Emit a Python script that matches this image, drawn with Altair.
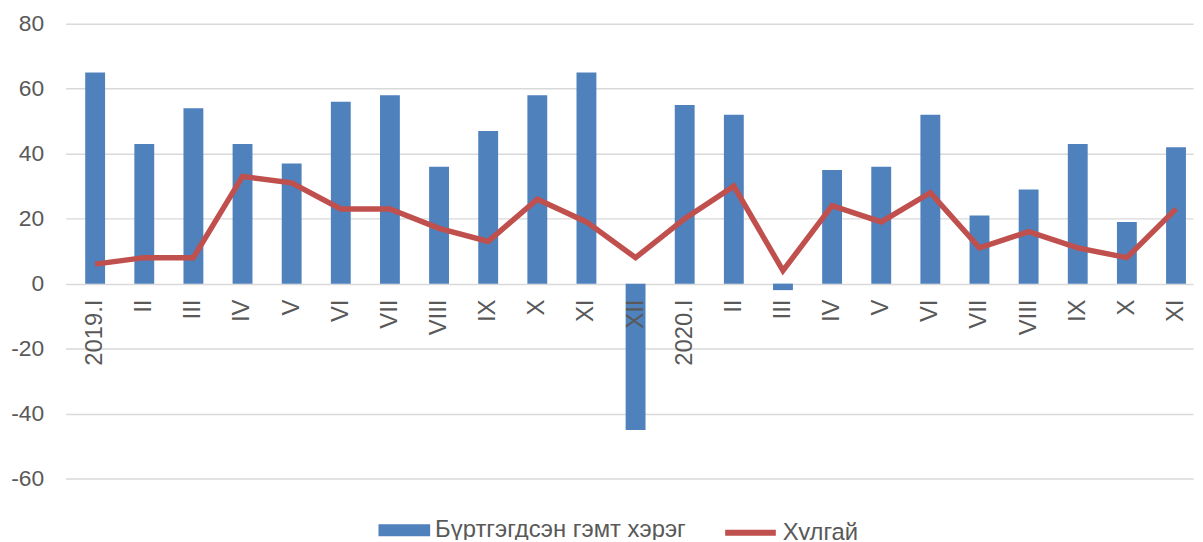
import altair as alt
import pandas as pd

labels = ["2019.I", "II", "III", "IV", "V", "VI", "VII", "VIII", "IX", "X", "XI", "XII",
          "2020.I", "II", "III", "IV", "V", "VI", "VII", "VIII", "IX", "X", "XI"]
crimes = [65, 43, 54, 43, 37, 56, 58, 36, 47, 58, 65, -45,
          55, 52, -2, 35, 36, 52, 21, 29, 43, 19, 42]
theft = [6, 8, 8, 33, 31, 23, 23, 17, 13, 26, 19, 8,
         20, 30, 4, 24, 19, 28, 11, 16, 11, 8, 23]

bar_name = "Бүртгэгдсэн гэмт хэрэг"
line_name = "Хулгай"

df = pd.DataFrame({
    "idx": list(range(len(labels))),
    "label": labels,
    "crimes": crimes,
    "theft": theft,
    "bar_series": bar_name,
    "line_series": line_name,
})

FONT = "Liberation Sans"
GREY = "#595959"

xenc = alt.X("idx:Q", scale=alt.Scale(domain=[-0.5, 22.245], nice=False, zero=False), axis=None)
yscale = alt.Scale(domain=[-60, 80], nice=False)
yaxis = alt.Axis(values=[-60, -40, -20, 0, 20, 40, 60, 80], title=None, domain=False, ticks=False,
                 tickSize=0, labelPadding=22, labelFontSize=23, labelColor=GREY, labelFont=FONT,
                 labelExpr="datum.value + ''",
                 grid=True, gridColor="#D9D9D9", gridWidth=1.5)

base = alt.Chart(df)

bars = base.mark_bar(size=20, color="#4F81BD").encode(
    x=xenc,
    y=alt.Y("crimes:Q", scale=yscale, axis=yaxis, title=None),
    fill=alt.Fill("bar_series:N", scale=alt.Scale(domain=[bar_name], range=["#4F81BD"]),
                  legend=alt.Legend(title=None, orient="none", legendX=315, legendY=484,
                                    symbolType="M-1,-0.23H1V0.23H-1Z", symbolSize=2704,
                                    symbolStrokeWidth=0, labelFontSize=24, labelColor=GREY,
                                    labelFont=FONT, labelOffset=5, labelLimit=0, padding=0)),
)

line = base.mark_line(strokeWidth=5.5).encode(
    x=xenc,
    y=alt.Y("theft:Q", scale=yscale, axis=yaxis, title=None),
    stroke=alt.Stroke("line_series:N", scale=alt.Scale(domain=[line_name], range=["#C0504D"]),
                      legend=alt.Legend(title=None, orient="none", legendX=661, legendY=484,
                                        symbolType="stroke", symbolSize=2600,
                                        symbolStrokeWidth=6,
                                        labelFontSize=24, labelColor=GREY, labelFont=FONT,
                                        labelOffset=4, labelLimit=0, padding=0)),
)

text = base.mark_text(angle=270, align="right", baseline="middle", dx=-16,
                      fontSize=24, color=GREY, font=FONT).encode(
    x=xenc,
    y=alt.datum(0, scale=yscale, axis=yaxis, title=None),
    text="label:N",
)

chart = alt.layer(bars, line, text).resolve_legend(fill="independent", stroke="independent").properties(
    width=1135,
    height=458,
    padding={"left": 58, "top": 14, "right": 2, "bottom": 60},
    autosize=alt.AutoSizeParams(type="none"),
).configure_view(stroke=None)

chart.save("out.html", embed_options={"renderer": "svg", "actions": False})
